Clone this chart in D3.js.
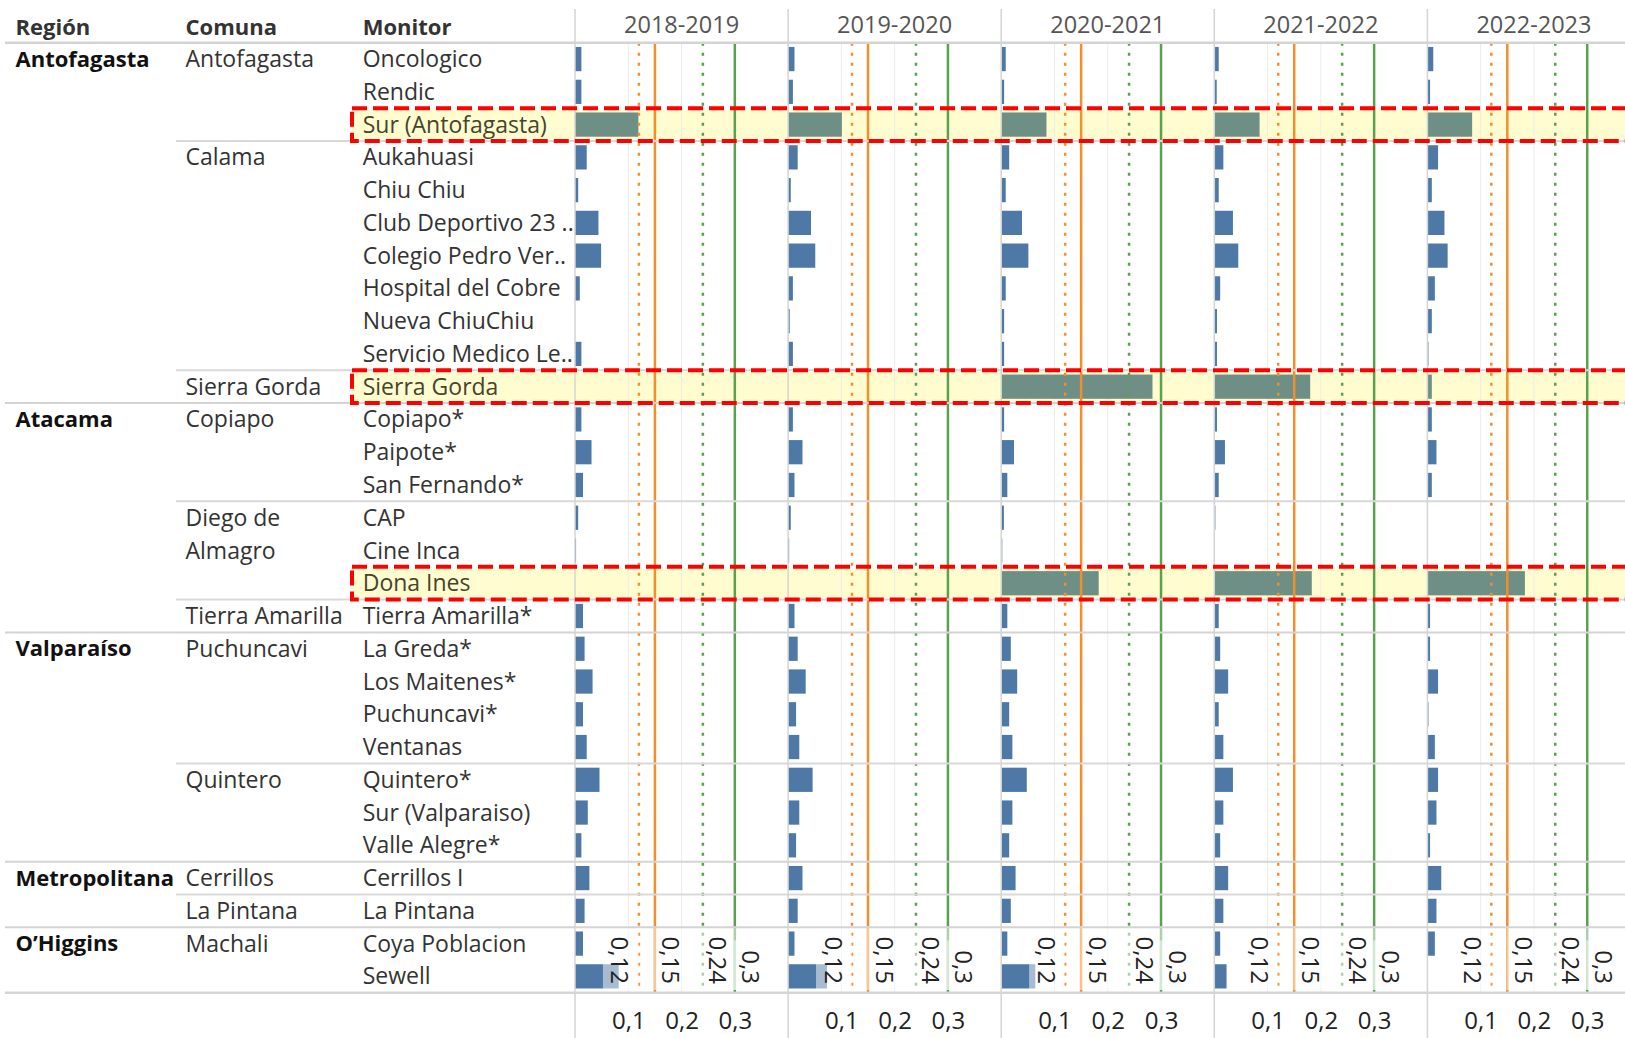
<!DOCTYPE html>
<html><head><meta charset="utf-8">
<script src="https://cdn.jsdelivr.net/npm/d3@7"></script>
<style>body{margin:0;background:#fff}svg{display:block}</style>
</head><body>
<svg id="c" width="1625" height="1038"></svg>
<script>
const years = ["2018-2019","2019-2020","2020-2021","2021-2022","2022-2023"];
const regions = ["Antofagasta","Atacama","Valparaíso","Metropolitana","O’Higgins"];
const regionSizes = [11,7,7,2,2];
const comunas = ["Antofagasta","Calama","Sierra Gorda","Copiapo","Diego de Almagro","Tierra Amarilla","Puchuncavi","Quintero","Cerrillos","La Pintana","Machali"];
const comunaSizes = [3,7,1,3,3,1,4,3,1,1,2];
const monitors = ["Oncologico","Rendic","Sur (Antofagasta)","Aukahuasi","Chiu Chiu","Club Deportivo 23 ..","Colegio Pedro Ver..","Hospital del Cobre","Nueva ChiuChiu","Servicio Medico Le..","Sierra Gorda","Copiapo*","Paipote*","San Fernando*","CAP","Cine Inca","Dona Ines","Tierra Amarilla*","La Greda*","Los Maitenes*","Puchuncavi*","Ventanas","Quintero*","Sur (Valparaiso)","Valle Alegre*","Cerrillos I","La Pintana","Coya Poblacion","Sewell"];
const values2018 = [0.012,0.012,0.119,0.022,0.006,0.044,0.049,0.009,null,0.012,null,0.012,0.031,0.015,0.006,0.002,null,0.015,0.018,0.033,0.015,0.022,0.046,0.024,0.012,0.027,0.018,0.015,0.082];
const values2019 = [0.012,0.009,0.101,0.018,0.005,0.043,0.051,0.009,0.003,0.009,null,0.009,0.027,0.012,0.005,0.002,null,0.012,0.018,0.033,0.015,0.021,0.046,0.021,0.015,0.027,0.018,0.012,0.073];
const values2020 = [0.0085,0.0055,0.085,0.015,0.0085,0.039,0.051,0.0085,0.0055,0.0055,0.284,0.0055,0.024,0.0115,0.005,0.002,0.183,0.0115,0.018,0.030,0.015,0.021,0.048,0.021,0.015,0.027,0.018,0.0115,0.064];
const values2021 = [0.0083,0.0045,0.085,0.017,0.0083,0.035,0.045,0.011,0.005,0.005,0.180,0.005,0.020,0.0083,0.002,0.001,0.183,0.0083,0.011,0.026,0.0083,0.017,0.035,0.017,0.011,0.026,0.017,0.011,0.023];
const values2022 = [0.011,0.005,0.084,0.020,0.0083,0.032,0.038,0.014,0.0083,0.002,0.0083,0.0083,0.017,0.0083,0.001,0.001,0.183,0.005,0.005,0.020,0.002,0.014,0.020,0.017,0.005,0.026,0.017,0.014,0.001];
const highlighted = ["Sur (Antofagasta)","Sierra Gorda","Dona Ines"];
const refValues = [0.12,0.15,0.24,0.3];
const tickValues = [0.1,0.2,0.3];

const series = [values2018,values2019,values2020,values2021,values2022];
const W=1625,H=1038;
const FONT = "'Open Sans', sans-serif";
const FS = 23, FSB = 22, FSY = 23.5, FSA = 24;
const svg = d3.select("#c").style("font-family",FONT);
const topY=42.7, rowH=32.76, n=monitors.length, bottomY=topY+n*rowH;
const panelX0=575, panelW=213.1;
const y = d3.scaleBand().domain(d3.range(n)).range([topY,bottomY]).paddingInner(0.26).paddingOuter(0.13);
const x = d3.scaleLinear().domain([0,0.4]).range([0,panelW]);
const px = d3.scaleBand().domain(years).range([panelX0,panelX0+panelW*years.length]);
const loc = d3.formatLocale({decimal:",",thousands:".",grouping:[3],currency:["$",""]});
const fmt = loc.format("~g");
const rowTop = i => topY + i*rowH;
const rowMid = i => topY + (i+0.5)*rowH;
const hiIdx = monitors.map((m,i)=>highlighted.includes(m)?i:-1).filter(i=>i>=0);

// highlight bands
svg.append("g").selectAll("rect").data(hiIdx).join("rect")
  .attr("x",352).attr("y",i=>rowTop(i)+1.5).attr("width",W).attr("height",rowH-3)
  .attr("fill","#fffdd0");

// panels: gridlines + bars
const panels = svg.append("g").selectAll("g").data(years).join("g")
  .attr("transform",d=>`translate(${px(d)},0)`);
panels.each(function(yr,pi){
  const g=d3.select(this);
  g.selectAll("line.grid").data(tickValues).join("line").attr("class","grid")
    .attr("x1",d=>x(d)).attr("x2",d=>x(d)).attr("y1",topY).attr("y2",bottomY)
    .attr("stroke","#ececec").attr("stroke-width",1);
  const vals = series[pi].map((v,i)=>({v,i})).filter(d=>d.v!=null);
  g.selectAll("rect.bar").data(vals).join("rect").attr("class","bar")
    .attr("x",0).attr("y",d=>y(d.i)).attr("width",d=>x(d.v)).attr("height",y.bandwidth())
    .attr("fill",d=>highlighted.includes(monitors[d.i])?"#6d8f86":"#4e79a7");
});

// horizontal separators
const comunaBounds = d3.cumsum(comunaSizes);
const regionBounds = d3.cumsum(regionSizes);
const sepG = svg.append("g");
comunaBounds.forEach(b=>{
  if(regionBounds.includes(b)) return;
  sepG.append("line").attr("x1",176).attr("x2",W).attr("y1",rowTop(b)).attr("y2",rowTop(b)).attr("stroke","#d9d9d9").attr("stroke-width",2);
});
regionBounds.forEach(b=>{
  sepG.append("line").attr("x1",5).attr("x2",W).attr("y1",rowTop(b)).attr("y2",rowTop(b)).attr("stroke","#d4d4d4").attr("stroke-width",2);
});
sepG.append("line").attr("x1",5).attr("x2",W).attr("y1",topY).attr("y2",topY).attr("stroke","#d4d4d4").attr("stroke-width",2.5);

// panel dividers
svg.append("g").selectAll("line").data(years).join("line")
  .attr("x1",d=>px(d)).attr("x2",d=>px(d)).attr("y1",9).attr("y2",H)
  .attr("stroke","#d4d4d4").attr("stroke-width",1.5);

// reference lines and labels
const refStyle = [
  {c:"#f28e2b",dash:"3,7"},{c:"#f28e2b",dash:null},{c:"#59a14f",dash:"3,7"},{c:"#59a14f",dash:null}];
const refOffset = [-18,17,16,17];
panels.each(function(){
  const g=d3.select(this);
  g.selectAll("line.ref").data(refValues).join("line").attr("class","ref")
    .attr("x1",d=>x(d)).attr("x2",d=>x(d)).attr("y1",topY).attr("y2",bottomY)
    .attr("stroke",(d,i)=>refStyle[i].c).attr("stroke-width",2.5)
    .attr("stroke-dasharray",(d,i)=>refStyle[i].dash);
  const lg = g.selectAll("g.rl").data(refValues).join("g").attr("class","rl")
    .attr("transform",(d,i)=>`translate(${x(d)+refOffset[i]},984) rotate(90)`);
  lg.each(function(d){
    const t=d3.select(this).append("text").text(fmt(d)).attr("text-anchor","end")
      .attr("dominant-baseline","central").attr("font-size",FSA).attr("fill","#222");
    const L=t.node().getComputedTextLength();
    d3.select(this).insert("rect","text").attr("x",-L-10).attr("y",-18).attr("width",L+16).attr("height",36)
      .attr("fill","#fff").attr("fill-opacity",0.5);
  });
});

// dashed highlight frames
svg.append("g").selectAll("rect").data(hiIdx).join("rect")
  .attr("x",352).attr("y",i=>rowTop(i)).attr("width",W).attr("height",rowH)
  .attr("fill","none").attr("stroke","#ff0000").attr("stroke-width",4).attr("stroke-dasharray","15,6");

// headers
const hdr = svg.append("g");
[["Región",15.5],["Comuna",185.5],["Monitor",362.7]].forEach(([t,xx])=>{
  hdr.append("text").attr("x",xx).attr("y",27).attr("dy","0.35em").attr("font-size",FSB).attr("font-weight","bold").attr("fill","#333").text(t);
});
hdr.selectAll("text.yr").data(years).join("text").attr("class","yr")
  .attr("x",d=>px(d)+panelW/2).attr("y",25).attr("dy","0.35em").attr("font-size",FSY)
  .attr("text-anchor","middle").attr("fill","#555").text(d=>d);

// row labels
const lab = svg.append("g").attr("font-size",FS);
let s=0;
regions.forEach((r,k)=>{
  lab.append("text").attr("x",15.5).attr("y",rowMid(s)).attr("dy","0.35em").attr("font-size",FSB)
    .attr("font-weight","bold").attr("fill","#111").text(r);
  s+=regionSizes[k];
});
s=0;
comunas.forEach((c,k)=>{
  const t=lab.append("text").attr("x",185.5).attr("y",rowMid(s)).attr("dy","0.35em").attr("fill","#333").text(c);
  if(t.node().getComputedTextLength()>168){
    const words=c.split(" "); t.text("");
    let line=[],li=0;
    words.forEach(w=>{
      line.push(w);
      const probe=lab.append("text").text(line.join(" "));
      const wd=probe.node().getComputedTextLength(); probe.remove();
      if(wd>168 && line.length>1){
        line.pop();
        t.append("tspan").attr("x",185.5).attr("y",rowMid(s+li)).attr("dy","0.35em").text(line.join(" "));
        li++; line=[w];
      }
    });
    t.append("tspan").attr("x",185.5).attr("y",rowMid(s+li)).attr("dy","0.35em").text(line.join(" "));
  }
  s+=comunaSizes[k];
});
lab.selectAll("text.mon").data(monitors).join("text").attr("class","mon")
  .attr("x",362.7).attr("y",(d,i)=>rowMid(i)).attr("dy","0.35em")
  .attr("fill",d=>highlighted.includes(d)?"#46442c":"#333").text(d=>d);

// bottom axis
svg.append("line").attr("x1",5).attr("x2",W).attr("y1",bottomY).attr("y2",bottomY).attr("stroke","#d4d4d4").attr("stroke-width",2);
panels.each(function(){
  const g=d3.select(this).append("g").attr("transform",`translate(0,${bottomY})`);
  const ax=d3.axisBottom(x).tickValues(tickValues).tickFormat(fmt).tickSize(0).tickPadding(0);
  g.call(ax);
  g.select(".domain").remove();
  g.selectAll("text").attr("font-size",FSA).attr("font-family",FONT).attr("fill","#222").attr("y",28).attr("dy","0.35em");
});
</script>
</body></html>
